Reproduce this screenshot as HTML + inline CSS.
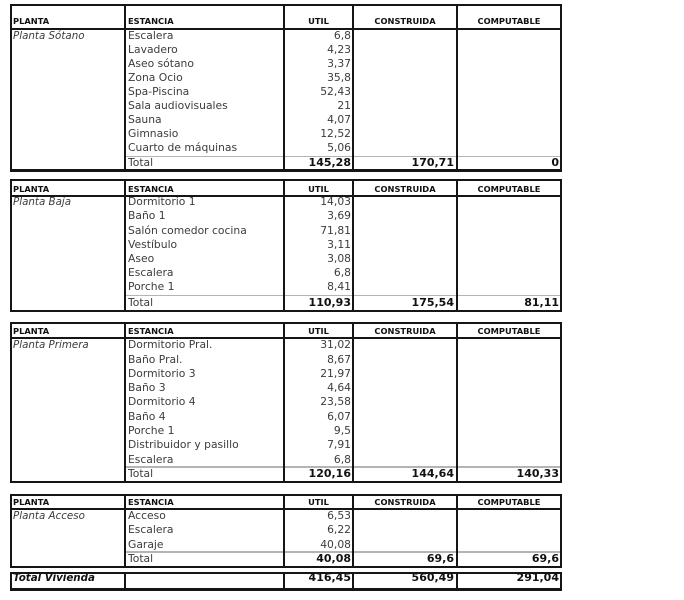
<!DOCTYPE html>
<html><head><meta charset="utf-8">
<style>
html,body{margin:0;padding:0;background:#fff;}
body{width:684px;height:600px;position:relative;overflow:hidden;font-family:"DejaVu Sans","Liberation Sans",sans-serif;}
.h{position:absolute;height:2px;background:#151515;left:10px;width:552px}
.v{position:absolute;width:2px;background:#151515}
.g{position:absolute;height:1.5px;background:#b4b4b4;left:125px;width:436px}
.row{position:absolute;left:0;width:684px;height:14px;line-height:14px;font-size:10.75px;color:#3c3c3c;white-space:nowrap}
.row span{position:absolute;top:0}
.pl{left:13px;font-style:italic;font-size:10.3px}
.es{left:128px}
.ut{right:333px}
.co{right:230px}
.cp{right:125px}
.b{font-weight:bold;color:#111;font-size:11px}
.hd{font-weight:bold;font-size:8.3px;color:#111}
.hu{left:284px;width:69px;text-align:center}
.hc{left:353px;width:104px;text-align:center}
.hp{left:457px;width:104px;text-align:center}
.hpl{left:13px}
</style></head><body>

<!-- TABLE 1 -->
<div class="h" style="top:4px"></div>
<div class="h" style="top:28px"></div>
<div class="g" style="top:155.5px"></div>
<div class="h" style="top:169px;height:2.5px"></div>
<div class="v" style="left:10px;top:4px;height:167px"></div>
<div class="v" style="left:124px;top:4px;height:167px"></div>
<div class="v" style="left:283px;top:4px;height:167px"></div>
<div class="v" style="left:352px;top:4px;height:167px"></div>
<div class="v" style="left:456px;top:4px;height:167px"></div>
<div class="v" style="left:560px;top:4px;height:167px"></div>
<div class="row hd" style="top:14px"><span class="hpl">PLANTA</span><span class="es">ESTANCIA</span><span class="hu">UTIL</span><span class="hc">CONSTRUIDA</span><span class="hp">COMPUTABLE</span></div>
<div class="row" style="top:28.5px"><span class="pl">Planta Sótano</span><span class="es">Escalera</span><span class="ut">6,8</span></div>
<div class="row" style="top:42.6px"><span class="es">Lavadero</span><span class="ut">4,23</span></div>
<div class="row" style="top:56.7px"><span class="es">Aseo sótano</span><span class="ut">3,37</span></div>
<div class="row" style="top:70.8px"><span class="es">Zona Ocio</span><span class="ut">35,8</span></div>
<div class="row" style="top:84.9px"><span class="es">Spa-Piscina</span><span class="ut">52,43</span></div>
<div class="row" style="top:99px"><span class="es">Sala audiovisuales</span><span class="ut">21</span></div>
<div class="row" style="top:113.2px"><span class="es">Sauna</span><span class="ut">4,07</span></div>
<div class="row" style="top:127.3px"><span class="es">Gimnasio</span><span class="ut">12,52</span></div>
<div class="row" style="top:141.4px"><span class="es">Cuarto de máquinas</span><span class="ut">5,06</span></div>
<div class="row" style="top:156px"><span class="es">Total</span><span class="ut b">145,28</span><span class="co b">170,71</span><span class="cp b">0</span></div>

<!-- TABLE 2 -->
<div class="h" style="top:179px"></div>
<div class="h" style="top:195px"></div>
<div class="g" style="top:294.5px"></div>
<div class="h" style="top:309.5px;height:2.5px"></div>
<div class="v" style="left:10px;top:179px;height:133px"></div>
<div class="v" style="left:124px;top:179px;height:133px"></div>
<div class="v" style="left:283px;top:179px;height:133px"></div>
<div class="v" style="left:352px;top:179px;height:133px"></div>
<div class="v" style="left:456px;top:179px;height:133px"></div>
<div class="v" style="left:560px;top:179px;height:133px"></div>
<div class="row hd" style="top:181.5px"><span class="hpl">PLANTA</span><span class="es">ESTANCIA</span><span class="hu">UTIL</span><span class="hc">CONSTRUIDA</span><span class="hp">COMPUTABLE</span></div>
<div class="row" style="top:195.3px"><span class="pl">Planta Baja</span><span class="es">Dormitorio 1</span><span class="ut">14,03</span></div>
<div class="row" style="top:209.4px"><span class="es">Baño 1</span><span class="ut">3,69</span></div>
<div class="row" style="top:223.5px"><span class="es">Salón comedor cocina</span><span class="ut">71,81</span></div>
<div class="row" style="top:237.6px"><span class="es">Vestíbulo</span><span class="ut">3,11</span></div>
<div class="row" style="top:251.8px"><span class="es">Aseo</span><span class="ut">3,08</span></div>
<div class="row" style="top:265.9px"><span class="es">Escalera</span><span class="ut">6,8</span></div>
<div class="row" style="top:280px"><span class="es">Porche 1</span><span class="ut">8,41</span></div>
<div class="row" style="top:295.5px"><span class="es">Total</span><span class="ut b">110,93</span><span class="co b">175,54</span><span class="cp b">81,11</span></div>

<!-- TABLE 3 -->
<div class="h" style="top:322.3px"></div>
<div class="h" style="top:337.3px"></div>
<div class="g" style="top:466px"></div>
<div class="h" style="top:480.5px;height:2.5px"></div>
<div class="v" style="left:10px;top:322.3px;height:160.7px"></div>
<div class="v" style="left:124px;top:322.3px;height:160.7px"></div>
<div class="v" style="left:283px;top:322.3px;height:160.7px"></div>
<div class="v" style="left:352px;top:322.3px;height:160.7px"></div>
<div class="v" style="left:456px;top:322.3px;height:160.7px"></div>
<div class="v" style="left:560px;top:322.3px;height:160.7px"></div>
<div class="row hd" style="top:324px"><span class="hpl">PLANTA</span><span class="es">ESTANCIA</span><span class="hu">UTIL</span><span class="hc">CONSTRUIDA</span><span class="hp">COMPUTABLE</span></div>
<div class="row" style="top:338.3px"><span class="pl">Planta Primera</span><span class="es">Dormitorio Pral.</span><span class="ut">31,02</span></div>
<div class="row" style="top:352.6px"><span class="es">Baño Pral.</span><span class="ut">8,67</span></div>
<div class="row" style="top:366.8px"><span class="es">Dormitorio 3</span><span class="ut">21,97</span></div>
<div class="row" style="top:381.1px"><span class="es">Baño 3</span><span class="ut">4,64</span></div>
<div class="row" style="top:395.4px"><span class="es">Dormitorio 4</span><span class="ut">23,58</span></div>
<div class="row" style="top:409.6px"><span class="es">Baño 4</span><span class="ut">6,07</span></div>
<div class="row" style="top:423.9px"><span class="es">Porche 1</span><span class="ut">9,5</span></div>
<div class="row" style="top:438.2px"><span class="es">Distribuidor y pasillo</span><span class="ut">7,91</span></div>
<div class="row" style="top:452.5px"><span class="es">Escalera</span><span class="ut">6,8</span></div>
<div class="row" style="top:467px"><span class="es">Total</span><span class="ut b">120,16</span><span class="co b">144,64</span><span class="cp b">140,33</span></div>

<!-- TABLE 4 -->
<div class="h" style="top:494px"></div>
<div class="h" style="top:508.3px"></div>
<div class="g" style="top:551px"></div>
<div class="h" style="top:565.5px;height:2.5px"></div>
<div class="v" style="left:10px;top:494px;height:74px"></div>
<div class="v" style="left:124px;top:494px;height:74px"></div>
<div class="v" style="left:283px;top:494px;height:74px"></div>
<div class="v" style="left:352px;top:494px;height:74px"></div>
<div class="v" style="left:456px;top:494px;height:74px"></div>
<div class="v" style="left:560px;top:494px;height:74px"></div>
<div class="row hd" style="top:495.3px"><span class="hpl">PLANTA</span><span class="es">ESTANCIA</span><span class="hu">UTIL</span><span class="hc">CONSTRUIDA</span><span class="hp">COMPUTABLE</span></div>
<div class="row" style="top:509.3px"><span class="pl">Planta Acceso</span><span class="es">Acceso</span><span class="ut">6,53</span></div>
<div class="row" style="top:523.4px"><span class="es">Escalera</span><span class="ut">6,22</span></div>
<div class="row" style="top:537.6px"><span class="es">Garaje</span><span class="ut">40,08</span></div>
<div class="row" style="top:552px"><span class="es">Total</span><span class="ut b">40,08</span><span class="co b">69,6</span><span class="cp b">69,6</span></div>

<!-- TOTAL VIVIENDA -->
<div class="row" style="top:571px"><span class="pl b" style="font-size:10.3px">Total Vivienda</span><span class="ut b">416,45</span><span class="co b">560,49</span><span class="cp b">291,04</span></div>
<div class="h" style="top:572.3px"></div>
<div class="h" style="top:588px;height:2.5px"></div>
<div class="v" style="left:10px;top:572.3px;height:18.2px"></div>
<div class="v" style="left:124px;top:572.3px;height:18.2px"></div>
<div class="v" style="left:283px;top:572.3px;height:18.2px"></div>
<div class="v" style="left:352px;top:572.3px;height:18.2px"></div>
<div class="v" style="left:456px;top:572.3px;height:18.2px"></div>
<div class="v" style="left:560px;top:572.3px;height:18.2px"></div>

</body></html>
